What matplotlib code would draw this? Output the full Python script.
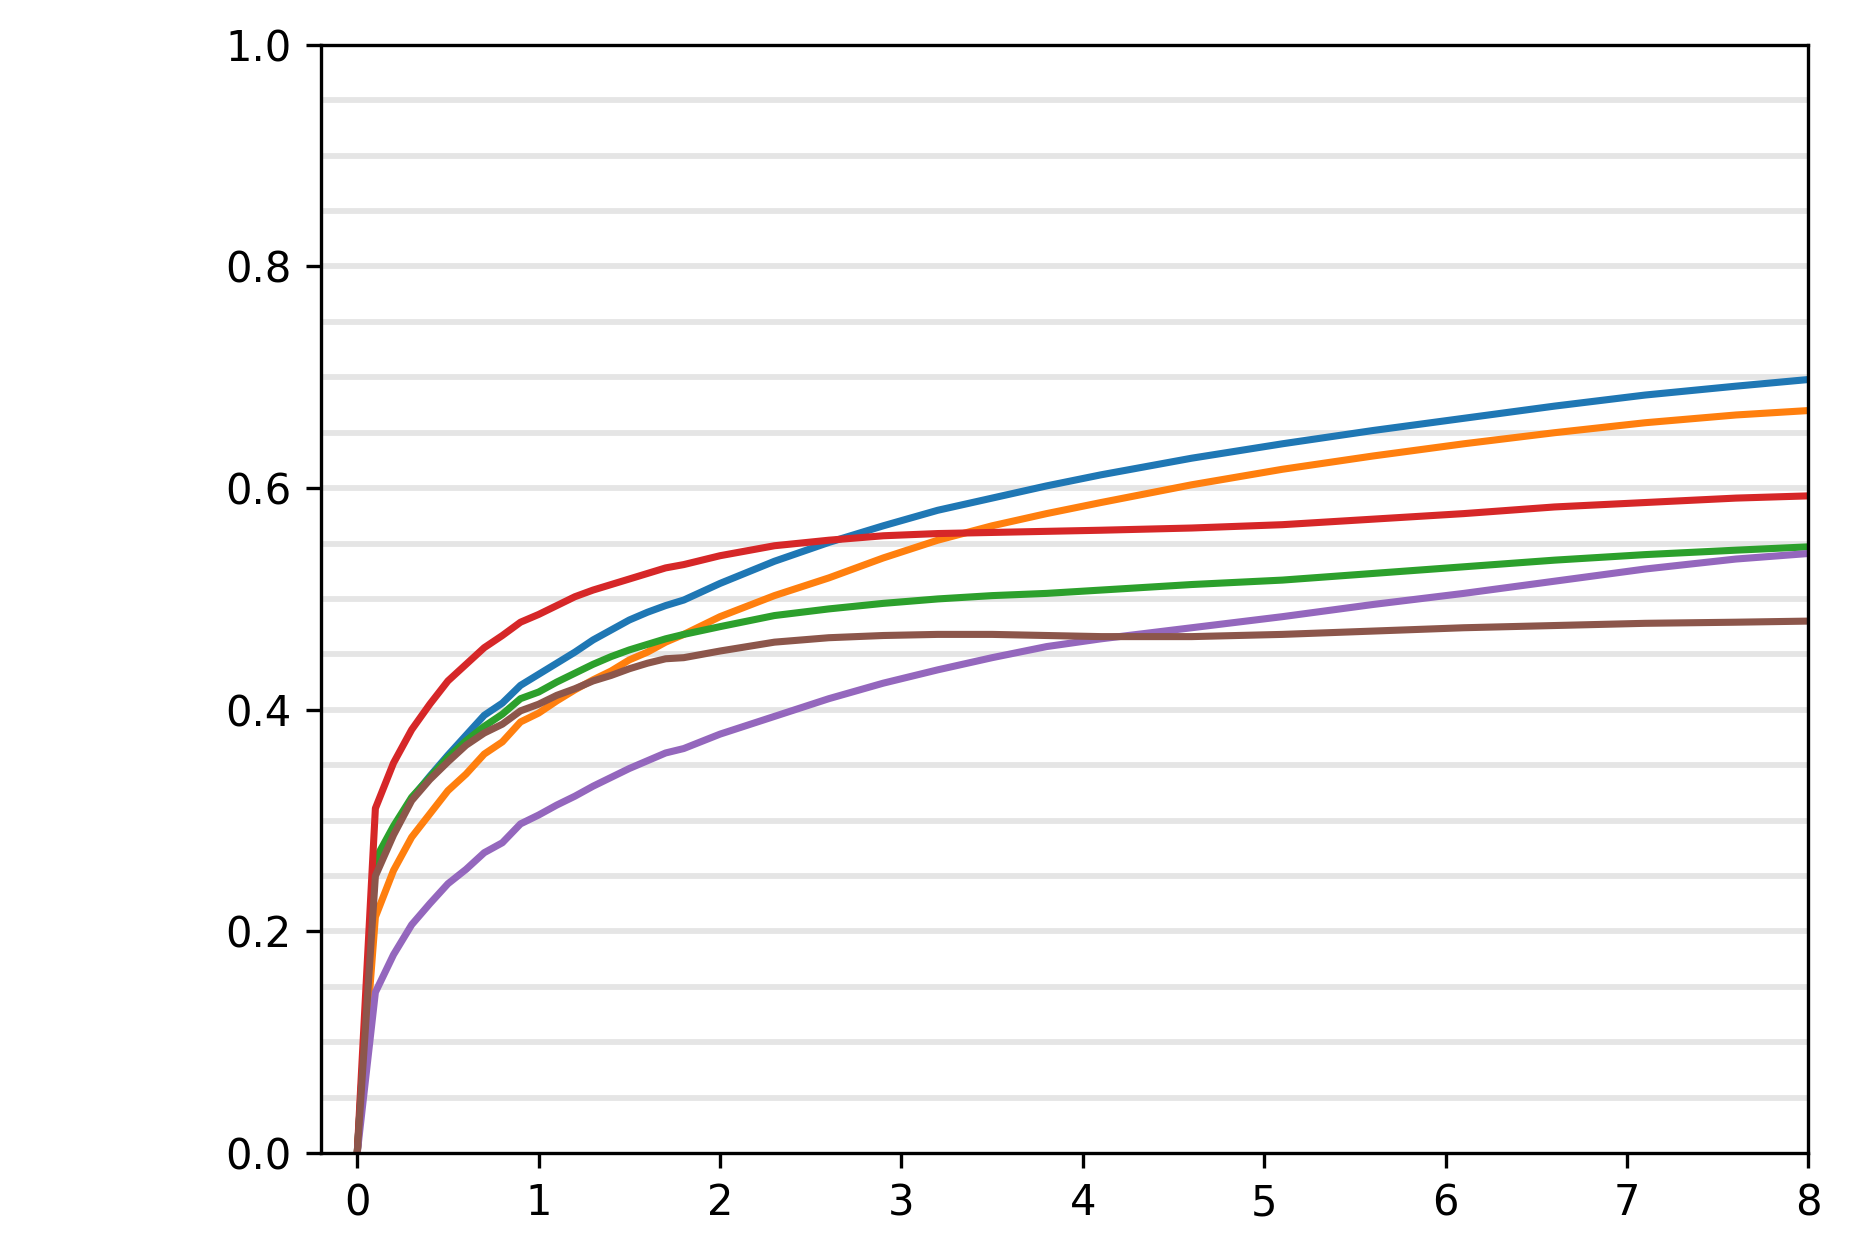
import numpy as np
import matplotlib
matplotlib.use("Agg")
import matplotlib.pyplot as plt

# x positions where each curve was sampled
x = [0, 0.1, 0.2, 0.3, 0.4, 0.5, 0.6, 0.7, 0.8, 0.9, 1.0, 1.1, 1.2, 1.3, 1.4,
     1.5, 1.6, 1.7, 1.8, 2.0, 2.3, 2.6, 2.9, 3.2, 3.5, 3.8, 4.1, 4.6, 5.1,
     5.6, 6.1, 6.6, 7.1, 7.6, 8.0]

blue = [0, 0.262, 0.292, 0.320, 0.340, 0.359, 0.377, 0.395, 0.406, 0.422,
        0.432, 0.442, 0.452, 0.463, 0.472, 0.481, 0.488, 0.494, 0.499, 0.514,
        0.534, 0.551, 0.566, 0.580, 0.591, 0.602, 0.612, 0.627, 0.640, 0.652,
        0.663, 0.674, 0.684, 0.692, 0.698]
orange = [0, 0.213, 0.255, 0.285, 0.306, 0.327, 0.342, 0.360, 0.371, 0.389,
          0.397, 0.408, 0.418, 0.427, 0.435, 0.445, 0.452, 0.461, 0.468, 0.484,
          0.503, 0.519, 0.537, 0.553, 0.566, 0.577, 0.587, 0.603, 0.617, 0.629,
          0.640, 0.650, 0.659, 0.666, 0.670]
green = [0, 0.265, 0.295, 0.321, 0.339, 0.357, 0.372, 0.385, 0.396, 0.410,
         0.416, 0.425, 0.433, 0.441, 0.448, 0.454, 0.459, 0.464, 0.468, 0.475,
         0.485, 0.491, 0.496, 0.500, 0.503, 0.505, 0.508, 0.513, 0.517, 0.523,
         0.529, 0.535, 0.540, 0.544, 0.547]
red = [0, 0.311, 0.352, 0.382, 0.405, 0.426, 0.441, 0.456, 0.467, 0.479,
       0.486, 0.494, 0.502, 0.508, 0.513, 0.518, 0.523, 0.528, 0.531, 0.539,
       0.548, 0.553, 0.557, 0.559, 0.560, 0.561, 0.562, 0.564, 0.567, 0.572,
       0.577, 0.583, 0.587, 0.591, 0.593]
purple = [0, 0.145, 0.179, 0.206, 0.225, 0.243, 0.256, 0.271, 0.280, 0.297,
          0.305, 0.314, 0.322, 0.331, 0.339, 0.347, 0.354, 0.361, 0.365, 0.378,
          0.394, 0.410, 0.424, 0.436, 0.447, 0.457, 0.464, 0.474, 0.484, 0.495,
          0.505, 0.516, 0.527, 0.536, 0.541]
brown = [0, 0.250, 0.287, 0.318, 0.337, 0.353, 0.368, 0.379, 0.387, 0.399,
         0.405, 0.413, 0.419, 0.426, 0.431, 0.437, 0.442, 0.446, 0.447, 0.453,
         0.461, 0.465, 0.467, 0.468, 0.468, 0.467, 0.466, 0.466, 0.468, 0.471,
         0.474, 0.476, 0.478, 0.479, 0.480]

series = [blue, orange, green, red, purple, brown]
grid_levels = np.arange(0.05, 1.0, 0.05)

fig = plt.figure(figsize=(1851 / 300, 1253 / 300), dpi=300)
ax = fig.add_axes([0.1734, 0.0798, 0.8036, 0.8844])

for g in grid_levels:
    ax.axhline(g, color="#e5e5e5", lw=1.4, zorder=0)

for ys in series:
    ax.plot(x, ys, lw=1.7)

ax.set_xlim(-0.2, 8)
ax.set_ylim(0, 1)
ax.set_xticks(range(0, 9))
ax.set_yticks([0.0, 0.2, 0.4, 0.6, 0.8, 1.0])

fig.savefig("out.png", dpi=300)
